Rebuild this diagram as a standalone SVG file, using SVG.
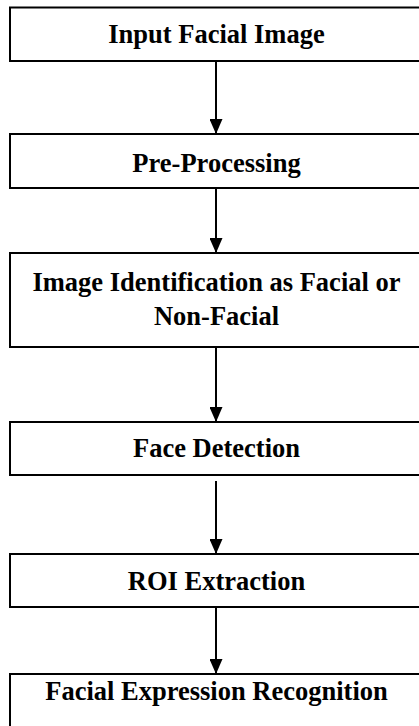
<svg xmlns="http://www.w3.org/2000/svg" width="419" height="726" viewBox="0 0 419 726">
  <defs>
    <style>
      .box { fill: #ffffff; stroke: #000000; stroke-width: 2; }
      .label { font-family: "Liberation Serif", "Times New Roman", serif; font-weight: bold; font-size: 26.5px; fill: #000000; text-anchor: middle; }
      .link { stroke: #000000; stroke-width: 2; fill: none; marker-end: url(#head); }
    </style>
    <!-- solid triangular arrowhead, tip at the end of the line -->
    <marker id="head" viewBox="0 0 15 13" refX="15" refY="6.5" markerWidth="15" markerHeight="13" markerUnits="userSpaceOnUse" orient="auto">
      <path d="M0,0 L15,6.5 L0,13 Z" fill="#000000"/>
    </marker>
  </defs>
  <rect width="419" height="726" fill="#ffffff"/>

  <g id="connectors">
    <line class="link" x1="216" y1="61" x2="216" y2="134"/>
    <line class="link" x1="216" y1="188" x2="216" y2="253"/>
    <line class="link" x1="216" y1="347" x2="216" y2="422"/>
    <line class="link" x1="216" y1="481" x2="216" y2="554"/>
    <line class="link" x1="216" y1="607" x2="216" y2="674"/>
  </g>

  <g id="input-facial-image">
    <rect class="box" x="10" y="7.5" width="413" height="53.5"/>
    <text class="label" x="216.5" y="43">Input Facial Image</text>
  </g>
  <g id="pre-processing">
    <rect class="box" x="10" y="134" width="413" height="54"/>
    <text class="label" x="216.5" y="172">Pre-Processing</text>
  </g>
  <g id="image-identification">
    <rect class="box" x="10" y="253" width="413" height="94"/>
    <text class="label" x="216.5" y="291">Image Identification as Facial or</text>
    <text class="label" x="216.5" y="325">Non-Facial</text>
  </g>
  <g id="face-detection">
    <rect class="box" x="10" y="422" width="413" height="53"/>
    <text class="label" x="216.5" y="457">Face Detection</text>
  </g>
  <g id="roi-extraction">
    <rect class="box" x="10" y="554" width="413" height="53"/>
    <text class="label" x="216.5" y="590">ROI Extraction</text>
  </g>
  <g id="facial-expression-recognition">
    <rect class="box" x="10" y="674" width="413" height="60"/>
    <text class="label" x="216.5" y="700">Facial Expression Recognition</text>
  </g>
</svg>
